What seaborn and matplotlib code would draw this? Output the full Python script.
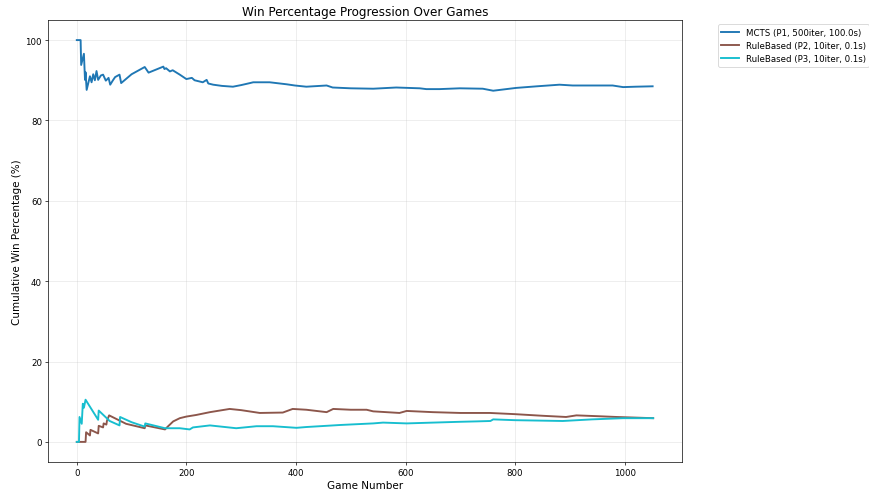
import matplotlib
matplotlib.use("Agg")
import matplotlib.pyplot as plt
import seaborn as sns

# Waypoints (game number -> cumulative win %)
mcts_games = [0, 7, 8, 13, 15, 16, 18, 24, 27, 30, 33, 36, 39, 44, 48, 53, 58, 61,
              66, 70, 78, 81, 100, 124, 131, 158, 160, 163, 170, 175, 188, 200, 210,
              215, 230, 237, 240, 249, 265, 285, 300, 316, 322, 352, 383, 398, 419,
              456, 467, 500, 541, 583, 626, 638, 662, 699, 741, 760, 802, 840, 881,
              905, 940, 978, 997, 1020, 1051]
mcts_pct = [100, 100, 93.8, 96.6, 90.1, 92.0, 87.6, 91.0, 89.5, 91.5, 90.0, 92.3,
            90.1, 91.2, 91.4, 89.9, 90.6, 88.9, 90.0, 90.8, 91.4, 89.3, 91.5, 93.3,
            91.9, 93.4, 92.8, 93.0, 92.2, 92.5, 91.4, 90.3, 90.6, 90.0, 89.5, 90.1,
            89.2, 88.9, 88.6, 88.4, 88.8, 89.3, 89.5, 89.5, 89.0, 88.7, 88.4, 88.7,
            88.2, 88.0, 87.9, 88.2, 88.0, 87.8, 87.8, 88.0, 87.9, 87.4, 88.1, 88.5,
            88.9, 88.7, 88.7, 88.7, 88.3, 88.4, 88.5]

p2_games = [0, 16, 17, 24, 25, 39, 40, 48, 49, 54, 55, 59, 90, 124, 125, 161, 166,
            176, 188, 200, 218, 243, 261, 279, 300, 334, 376, 394, 419, 456, 468,
            500, 529, 541, 589, 602, 650, 700, 754, 800, 850, 893, 912, 950, 985, 1052]
p2_pct = [0, 0, 2.4, 1.6, 3.0, 2.1, 4.0, 3.6, 4.6, 4.3, 5.2, 6.6, 4.5, 3.4, 4.1,
          3.1, 3.8, 5.1, 5.9, 6.3, 6.7, 7.4, 7.8, 8.2, 7.9, 7.2, 7.3, 8.2, 8.0,
          7.4, 8.2, 8.0, 8.0, 7.6, 7.2, 7.7, 7.4, 7.2, 7.2, 6.9, 6.5, 6.2, 6.6,
          6.4, 6.2, 5.9]

p3_games = [0, 4, 5, 9, 11, 13, 16, 39, 40, 60, 78, 79, 100, 124, 125, 161, 188,
            206, 212, 243, 291, 328, 358, 401, 419, 468, 480, 541, 559, 602, 650,
            699, 729, 755, 760, 800, 887, 940, 997, 1052]
p3_pct = [0, 0, 6.2, 4.5, 9.5, 8.5, 10.5, 5.5, 7.8, 5.2, 4.1, 6.2, 4.9, 3.8, 4.6,
          3.4, 3.4, 3.1, 3.6, 4.1, 3.4, 3.9, 3.9, 3.5, 3.7, 4.1, 4.2, 4.6, 4.8,
          4.6, 4.8, 5.0, 5.1, 5.2, 5.6, 5.4, 5.2, 5.6, 5.9, 5.9]

series = [
    ("MCTS (P1, 500iter, 100.0s)", mcts_games, mcts_pct, "#1f77b4"),
    ("RuleBased (P2, 10iter, 0.1s)", p2_games, p2_pct, "#8c564b"),
    ("RuleBased (P3, 10iter, 0.1s)", p3_games, p3_pct, "#17becf"),
]

fig = plt.figure(figsize=(14, 14 * 493 / 869), dpi=869 / 14)
ax = fig.add_axes([0.0552, 0.0609, 0.7296, 0.8965])

for label, games, pct, color in series:
    sns.lineplot(x=games, y=pct, ax=ax, label=label, color=color,
                 linewidth=2.2, estimator=None, sort=False)

ax.set_title("Win Percentage Progression Over Games", fontsize=14)
ax.set_xlabel("Game Number", fontsize=12)
ax.set_ylabel("Cumulative Win Percentage (%)", fontsize=12)
ax.set_xticks([0, 200, 400, 600, 800, 1000])
ax.set_yticks([0, 20, 40, 60, 80, 100])
ax.grid(True, alpha=0.3)
ax.legend(bbox_to_anchor=(1.05, 1), loc="upper left", fontsize=10)

fig.savefig("out.png", dpi=869 / 14)
